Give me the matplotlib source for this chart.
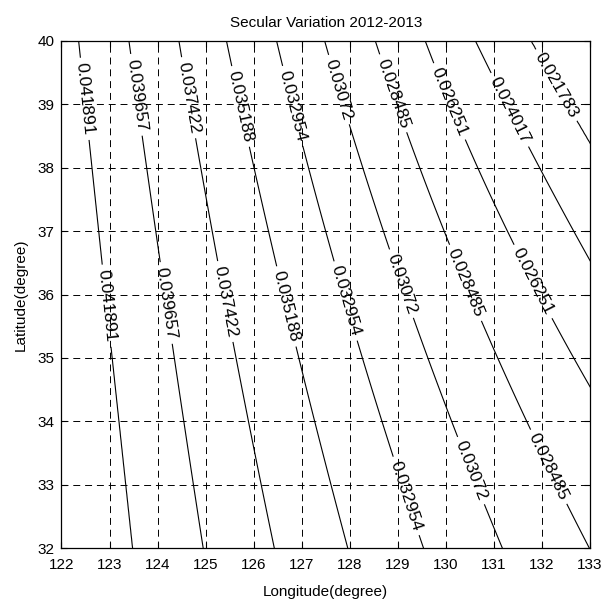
import numpy as np
import matplotlib
matplotlib.use("Agg")
import matplotlib.pyplot as plt

plt.rcParams['font.family'] = ['Liberation Sans', 'DejaVu Sans']
plt.rcParams['lines.scale_dashes'] = False

levels_desc = [0.041891, 0.039657, 0.037422, 0.035188, 0.032954,
               0.03072, 0.028485, 0.026251, 0.024017, 0.021783]

# Latitude rows at which crossings were read
lat_rows = [32, 33, 34, 35, 36, 37, 38, 39, 40]

# Longitude where each contour crosses each latitude row
c_041891 = [123.48, 123.34, 123.21, 123.04, 122.90, 122.79, 122.64, 122.50, 122.35]
c_039657 = [124.95, 124.74, 124.57, 124.34, 124.13, 123.96, 123.79, 123.60, 123.39]
c_037422 = [126.43, 126.15, 125.91, 125.64, 125.36, 125.11, 124.93, 124.68, 124.43]
c_035188 = [127.94, 127.62, 127.29, 126.96, 126.60, 126.29, 126.00, 125.72, 125.44]
c_032954 = [129.52, 129.10, 128.71, 128.25, 127.85, 127.50, 127.14, 126.80, 126.48]
c_030720 = [131.19, 130.60, 130.14, 129.64, 129.15, 128.71, 128.25, 127.85, 127.49]
c_028485 = [133.00, 132.30, 131.71, 131.04, 130.50, 129.99, 129.46, 128.98, 128.52]
c_026251 = [135.00, 134.30, 133.55, 132.61, 131.95, 131.21, 130.64, 130.10, 129.60]
c_024017 = [136.60, 135.80, 135.00, 134.20, 133.40, 132.61, 131.96, 131.20, 130.67]
c_021783 = [138.20, 137.40, 136.60, 135.80, 134.90, 134.00, 133.20, 132.55, 131.82]

crossings = [c_041891, c_039657, c_037422, c_035188, c_032954,
             c_030720, c_028485, c_026251, c_024017, c_021783]

# field values well outside the plotted window (edge anchors)
left_anchor = (121.0, 0.0448)
right_anchor = (142.0, 0.0150)

# axis ticks
xticks = list(range(122, 134))
yticks = list(range(32, 41))

# label positions (lon, lat)
label_pos = [(122.43, 39.08), (123.49, 39.14), (124.55, 39.09), (125.76, 38.97),
             (126.80, 38.97), (127.73, 39.22), (128.82, 39.15), (130.03, 39.03),
             (131.30, 38.90), (132.25, 39.28),
             (122.90, 35.82), (124.12, 35.86), (125.34, 35.88), (126.61, 35.80),
             (127.83, 35.88), (128.99, 36.15), (130.33, 36.16), (131.67, 36.15),
             (129.11, 32.81), (130.44, 33.20), (132.04, 33.25)]

# Smooth each read crossing curve (quadratic in latitude) and build the field
lon_f = np.linspace(121.8, 133.2, 571)
lat_f = np.linspace(31.9, 40.1, 411)
fits = [np.polyfit(lat_rows, c, 2) for c in crossings]
Z = np.zeros((lat_f.size, lon_f.size))
for i, la in enumerate(lat_f):
    xs = [np.polyval(p, la) for p in fits]
    xp = [left_anchor[0]] + xs + [right_anchor[0]]
    fp = [left_anchor[1]] + levels_desc + [right_anchor[1]]
    Z[i] = np.interp(lon_f, xp, fp)
LON, LAT = np.meshgrid(lon_f, lat_f)

levels = sorted(levels_desc)

fig = plt.figure(figsize=(6.16, 6.06), dpi=100)
ax = fig.add_axes([0.0998, 0.0952, 0.8580, 0.8376])

cs = ax.contour(LON, LAT, Z, levels=levels, colors='k', linewidths=0.8)
ax.clabel(cs, levels, inline=True, fmt='%g', fontsize=12.5, manual=label_pos,
          inline_spacing=4)

ax.set_xlim(122, 133)
ax.set_ylim(32, 40)
ax.set_xticks(xticks)
ax.set_yticks(yticks)
ax.grid(True, color='k', linestyle=(0, (5, 3.5)), linewidth=0.7)
ax.tick_params(direction='in', top=True, right=True, length=4, labelsize=11)
ax.tick_params(axis='x', pad=7)
ax.tick_params(axis='y', pad=5)
for s in ax.spines.values():
    s.set_linewidth(0.9)

ax.set_title('Secular Variation 2012-2013', fontsize=11, pad=10)
ax.set_xlabel('Longitude(degree)', fontsize=11, labelpad=9)
ax.set_ylabel('Latitude(degree)', fontsize=11, labelpad=7)

fig.savefig('out.png', dpi=100)
